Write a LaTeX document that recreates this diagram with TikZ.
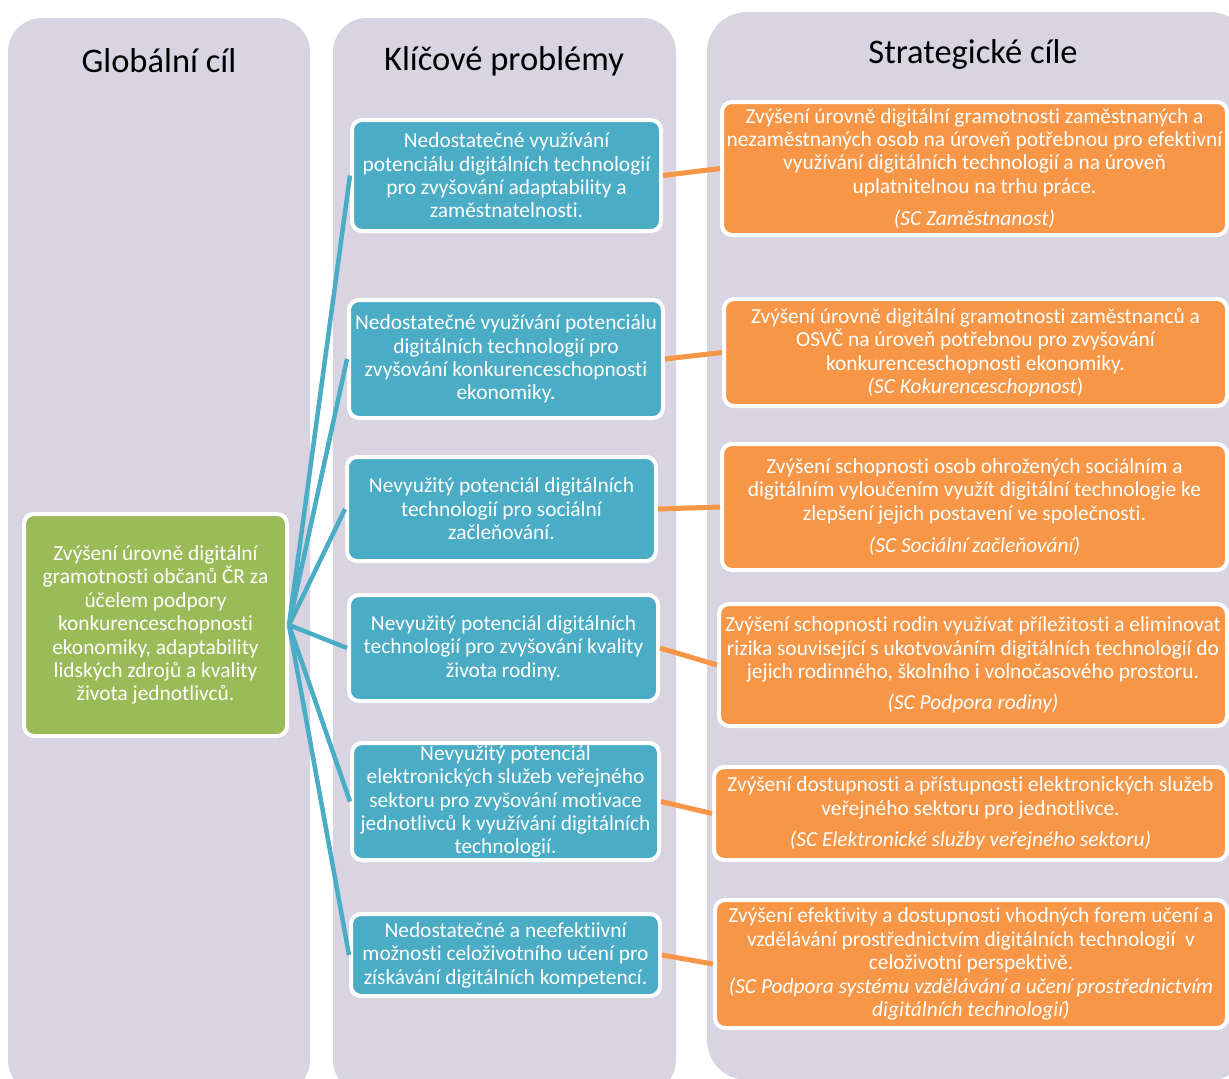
\documentclass[tikz,border=0pt]{standalone}
\usepackage{fontspec}
\setmainfont{Carlito}[Ligatures=NoCommon]

\definecolor{panelc}{RGB}{216,212,226}
\definecolor{aquac}{RGB}{75,172,198}
\definecolor{orangec}{RGB}{247,150,70}
\definecolor{greenc}{RGB}{155,187,89}

\tikzset{
  panel/.style={fill=panelc, rounded corners=34pt},
  paneltitle/.style={font=\fontsize{34.5}{40}\selectfont, text=black},
  box/.style={draw=white, line width=4pt, rounded corners=10pt, text=white,
    align=center, inner sep=0pt, anchor=north west,
    font=\fontsize{21.4}{23.4}\selectfont},
  goalbox/.style={box, fill=greenc},
  problembox/.style={box, fill=aquac},
  targetbox/.style={box, fill=orangec},
  link/.style={aquac, line width=4.5pt},
  tlink/.style={orangec, line width=5pt},
}

\begin{document}
\begin{tikzpicture}[x=1pt, y=-1pt]
  \clip (0,0) rectangle (1229,1079);
  \fill[white] (0,0) rectangle (1229,1079);

  % columns
  \fill[panel] (8,18) rectangle (310,1094);
  \fill[panel] (333,18) rectangle (676,1094);
  \fill[panel, rounded corners=40pt] (707,12) rectangle (1250,1080);

  \node[paneltitle] (gtitle) at (159,61) {Globální cíl};
  \node[paneltitle] (ptitle) at (504,61) {Klíčové problémy};
  \node[paneltitle] (ttitle) at (973,54) {Strategické cíle};

  % global goal
  \node[goalbox, minimum width=263pt, minimum height=222pt] (goal) at (22,512)
    {Zvýšení úrovně digitální\\ gramotnosti občanů ČR za\\ účelem podpory\\
     konkurenceschopnosti\\ ekonomiky, adaptability\\ lidských zdrojů a kvality\\
     života jednotlivců.};

  % key problems
  \node[problembox, minimum width=309pt, minimum height=111pt] (p1) at (350,118)
    {Nedostatečné využívání\\ potenciálu digitálních technologií\\
     pro zvyšování adaptability a\\ zaměstnatelnosti.};
  \node[problembox, minimum width=314pt, minimum height=118pt] (p2) at (347,298)
    {Nedostatečné využívání potenciálu\\ digitálních technologií pro\\
     zvyšování konkurenceschopnosti\\ ekonomiky.};
  \node[problembox, minimum width=309pt, minimum height=104pt] (p3) at (345,455)
    {Nevyužitý potenciál digitálních\\ technologií pro sociální\\ začleňování.};
  \node[problembox, minimum width=309pt, minimum height=106pt] (p4) at (347,593)
    {Nevyužitý potenciál digitálních\\ technologií pro zvyšování kvality\\
     života rodiny.};
  \node[problembox, minimum width=307pt, minimum height=117pt] (p5) at (350,741)
    {Nevyužitý potenciál\\ elektronických služeb veřejného\\
     sektoru pro zvyšování motivace\\ jednotlivců k využívání digitálních\\
     technologií.};
  \node[problembox, minimum width=309pt, minimum height=82pt] (p6) at (349,912)
    {Nedostatečné a neefektiivní\\ možnosti celoživotního učení pro\\
     získávání digitálních kompetencí.};

  % strategic goals
  \node[targetbox, minimum width=505pt, minimum height=133pt] (t1) at (720,100)
    {Zvýšení úrovně digitální gramotnosti zaměstnaných a\\
     nezaměstnaných osob na úroveň potřebnou pro efektivní\\
     využívání digitálních technologií a na úroveň\\
     uplatnitelnou na trhu práce.\\[9pt]
     \textit{(SC Zaměstnanost)}};
  \node[targetbox, minimum width=503pt, minimum height=107pt] (t2) at (722,297)
    {Zvýšení úrovně digitální gramotnosti zaměstnanců a\\
     OSVČ na úroveň potřebnou pro zvyšování\\
     konkurenceschopnosti ekonomiky.\\
     \textit{(SC Kokurenceschopnost})};
  \node[targetbox, minimum width=505pt, minimum height=126pt] (t3) at (720,442)
    {Zvýšení schopnosti osob ohrožených sociálním a\\
     digitálním vyloučením využít digitální technologie ke\\
     zlepšení jejich postavení ve společnosti.\\[9pt]
     \textit{(SC Sociální začleňování)}};
  \node[targetbox, minimum width=508pt, minimum height=122pt] (t4) at (717,602)
    {Zvýšení schopnosti rodin využívat příležitosti a eliminovat\\
     rizika související s ukotvováním digitálních technologií do\\
     jejich rodinného, školního i volnočasového prostoru.\\[8pt]
     \textit{(SC Podpora rodiny)}};
  \node[targetbox, minimum width=513pt, minimum height=93pt] (t5) at (712,765)
    {Zvýšení dostupnosti a přístupnosti elektronických služeb\\
     veřejného sektoru pro jednotlivce.\\[8pt]
     \textit{(SC Elektronické služby veřejného sektoru)}};
  \node[targetbox, minimum width=512pt, minimum height=128pt] (t6) at (713,898)
    {Zvýšení efektivity a dostupnosti vhodných forem učení a\\
     vzdělávání prostřednictvím digitálních technologií\ \ v\\
     celoživotní perspektivě.\\
     \textit{(SC Podpora systému vzdělávání a učení prostřednictvím}\\
     \textit{digitálních technologií)}};

  % connectors
  \foreach \i in {1,...,6}
    \draw[link] (goal.east) -- (p\i.west);
  \foreach \i in {1,...,6}
    \draw[tlink] (p\i.east) -- (t\i.west);
\end{tikzpicture}
\end{document}
